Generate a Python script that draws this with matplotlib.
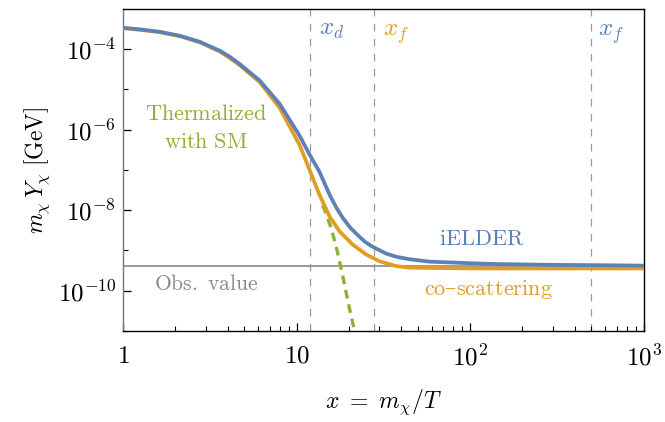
import numpy as np
import matplotlib
matplotlib.use("Agg")
import matplotlib.pyplot as plt
from matplotlib.ticker import FixedLocator, NullFormatter

plt.rcParams["mathtext.fontset"] = "cm"
plt.rcParams["font.family"] = "serif"
plt.rcParams["font.serif"] = ["DejaVu Serif"]

# ── data (log10 of m Y) ──
x_ielder = [1, 1.25, 1.63, 2.13, 2.77, 3.61, 4.12, 4.70, 6.13, 7.99, 10.4,
            11.88, 13.55, 15.5, 17.0, 18.5, 20.5, 23.0, 25.0, 27.4, 32.8,
            37.6, 44.6, 58, 100, 140, 300, 600, 1000]
y_ielder = 10.0 ** np.array([-3.47, -3.51, -3.57, -3.67, -3.82, -4.04, -4.19,
                             -4.37, -4.78, -5.36, -6.15, -6.62, -7.05, -7.62,
                             -7.95, -8.20, -8.45, -8.66, -8.80, -8.91, -9.08,
                             -9.16, -9.22, -9.28, -9.32, -9.34, -9.36, -9.37,
                             -9.38])

x_cosc = [1, 1.25, 1.63, 2.13, 2.77, 3.61, 4.12, 4.70, 6.13, 7.99, 10.4,
          11.88, 13.55, 15.5, 17.7, 21.1, 25.1, 30, 37.4, 44.6, 100, 1000]
y_cosc = 10.0 ** np.array([-3.48, -3.52, -3.58, -3.68, -3.83, -4.06, -4.22,
                           -4.40, -4.82, -5.46, -6.38, -7.0, -7.62, -8.16,
                           -8.53, -8.86, -9.10, -9.27, -9.39, -9.43, -9.45,
                           -9.45])

x_eq = [14.1, 14.5, 15.8, 16.9, 18.1, 20.0, 21.5, 23.0]
y_eq = 10.0 ** np.array([-7.88, -7.99, -8.44, -8.90, -9.47, -10.37, -10.98,
                         -11.6])

obs_value = 4e-10
x_d = 12
x_f_cosc = 28
x_f_ielder = 500

blue = "#5E81B5"
orange = "#E19C24"
green = "#8FB032"
grey = "#8a8a8a"

fig = plt.figure(figsize=(6.65, 4.22), dpi=100)
ax = fig.add_axes([0.185, 0.216, 0.783, 0.763])

for xv in [x_d, x_f_cosc, x_f_ielder]:
    ax.axvline(xv, color="#999999", lw=0.9, ls=(0, (6, 6)), zorder=1)
ax.axhline(obs_value, color=grey, lw=1.2, zorder=1)

ax.plot(x_eq, y_eq, color=green, lw=2.4, ls=(0, (2.6, 1.8)), zorder=2)
ax.plot(x_cosc, y_cosc, color=orange, lw=2.7, zorder=3)
ax.plot(x_ielder, y_ielder, color=blue, lw=2.7, zorder=4)

ax.set_xscale("log")
ax.set_yscale("log")
ax.set_xlim(1, 1000)
ax.set_ylim(1e-11, 1e-3)

ax.set_xticks([1, 10, 100, 1000])
ax.set_xticklabels([r"$1$", r"$10$", r"$10^{2}$", r"$10^{3}$"])
ax.xaxis.set_minor_locator(FixedLocator(
    [m * 10 ** k for k in range(3) for m in range(2, 10)]))
ax.xaxis.set_minor_formatter(NullFormatter())
ax.set_yticks([1e-10, 1e-8, 1e-6, 1e-4])
ax.set_yticklabels([r"$10^{-10}$", r"$10^{-8}$", r"$10^{-6}$", r"$10^{-4}$"])
ax.yaxis.set_minor_locator(FixedLocator([1e-11, 1e-9, 1e-7, 1e-5]))
ax.yaxis.set_minor_formatter(NullFormatter())
ax.tick_params(which="both", direction="in", top=False, right=False,
               labelsize=18)
ax.tick_params(axis="x", pad=10)
ax.tick_params(axis="y", pad=5)
ax.tick_params(which="major", length=6, width=0.9)
ax.tick_params(which="minor", length=3.5, width=0.8)
for s in ax.spines.values():
    s.set_linewidth(1.0)
ax.spines["left"].set_color("#777777")

ax.set_xlabel(r"$x\ =\ m_\chi/T$", fontsize=17, labelpad=12)
ax.set_ylabel(r"$m_\chi\,Y_\chi\ [\mathrm{GeV}]$", fontsize=17, labelpad=4)

ax.text(15.9, 3.0e-4, r"$x_d$", color=blue, fontsize=18, ha="center", va="center")
ax.text(37.6, 2.4e-4, r"$x_f$", color=orange, fontsize=18, ha="center", va="center")
ax.text(646, 2.4e-4, r"$x_f$", color=blue, fontsize=18, ha="center", va="center")
ax.text(3.0, 1.1e-6, r"$\mathrm{Thermalized}$" + "\n" + r"$\mathrm{with\ SM}$",
        color=green, fontsize=16, ha="center", va="center", linespacing=1.4)
ax.text(3.0, 1.5e-10, r"$\mathrm{Obs.\ value}$", color=grey,
        fontsize=15.5, ha="center", va="center")
ax.text(117, 1.9e-9, r"$\mathrm{iELDER}$", color=blue, fontsize=16,
        ha="center", va="center")
ax.text(128, 1.05e-10, r"$\mathrm{co}$–$\mathrm{scattering}$", color=orange,
        fontsize=16, ha="center", va="center")

fig.savefig("out.png", dpi=100)
